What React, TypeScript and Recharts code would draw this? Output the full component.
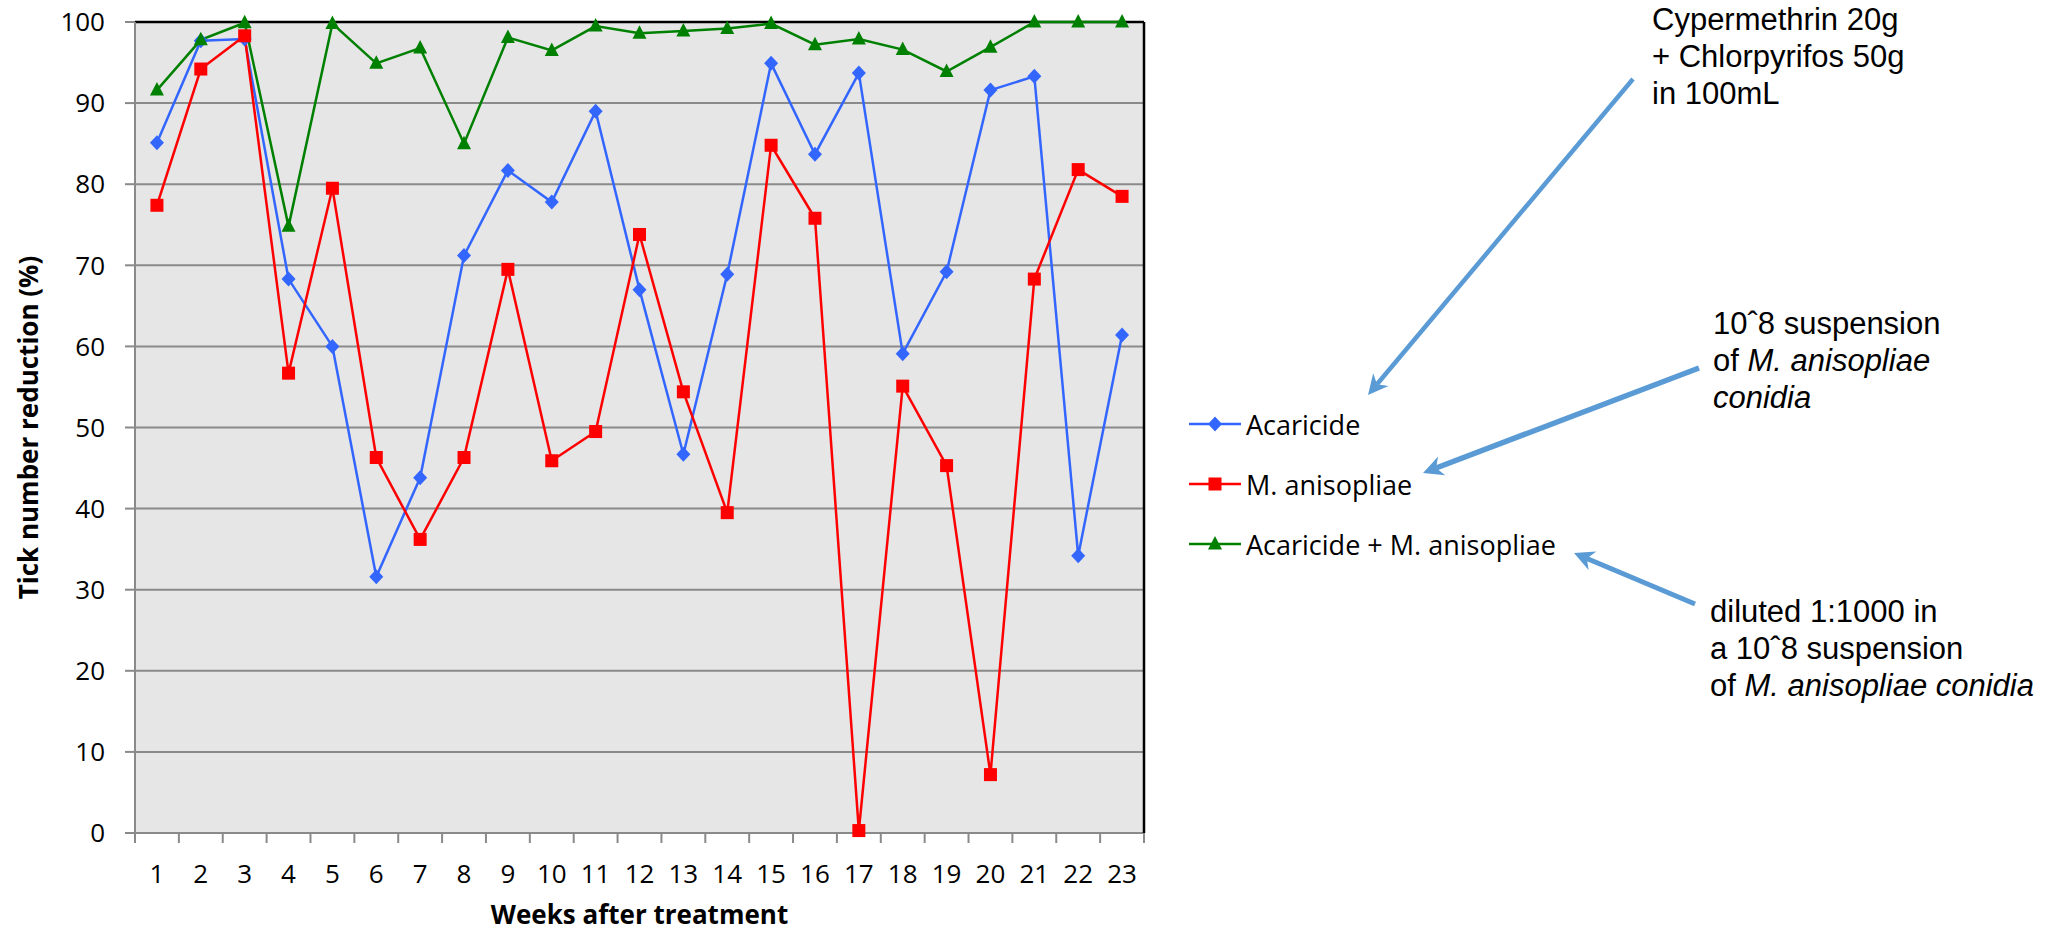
import { LineChart, Line, XAxis, YAxis, CartesianGrid, ReferenceLine, Legend } from "recharts";

const weeks = [1, 2, 3, 4, 5, 6, 7, 8, 9, 10, 11, 12, 13, 14, 15, 16, 17, 18, 19, 20, 21, 22, 23];
const acaricide = [85.1, 97.7, 97.9, 68.3, 60.0, 31.6, 43.8, 71.2, 81.7, 77.8, 89.0, 67.0, 46.7, 68.9, 94.9, 83.7, 93.7, 59.1, 69.2, 91.6, 93.3, 34.2, 61.4];
const anisopliae = [77.4, 94.2, 98.3, 56.7, 79.5, 46.3, 36.2, 46.3, 69.5, 45.9, 49.5, 73.8, 54.4, 39.5, 84.8, 75.8, 0.3, 55.1, 45.3, 7.2, 68.3, 81.8, 78.5];
const combined = [91.6, 97.8, 99.9, 74.8, 99.8, 94.9, 96.8, 85.0, 98.1, 96.5, 99.5, 98.6, 98.9, 99.2, 99.8, 97.2, 97.9, 96.6, 93.9, 96.9, 100, 100, 100];
const yTicks = [0, 10, 20, 30, 40, 50, 60, 70, 80, 90, 100];

const data = weeks.map((w, i) => ({
  week: String(w),
  acaricide: acaricide[i],
  anisopliae: anisopliae[i],
  combined: combined[i],
}));

const series = [
  { key: "acaricide", name: "Acaricide", color: "#3366ff", shape: "diamond" },
  { key: "anisopliae", name: "M. anisopliae", color: "#ff0000", shape: "square" },
  { key: "combined", name: "Acaricide + M. anisopliae", color: "#008000", shape: "triangle" },
];

// layout (page pixels)
const W = 2050;
const H = 934;
const PLOT_L = 135;
const PLOT_R = 1144;
const PLOT_T = 22;
const PLOT_B = 833;
const BAND = (PLOT_R - PLOT_L) / weeks.length;

const AXIS = "#8a8a8a";
const FONT = "'Open Sans', 'Noto Sans', sans-serif";
const NOTE_FONT = "'Liberation Sans', Arial, sans-serif";
const ARROW = "#5b9bd5";

const Marker = ({ cx, cy, shape, color }: any) => {
  if (cx == null || cy == null) return null;
  if (shape === "diamond")
    return <polygon points={`${cx},${cy - 7.5} ${cx + 7},${cy} ${cx},${cy + 7.5} ${cx - 7},${cy}`} fill={color} />;
  if (shape === "square") return <rect x={cx - 6.5} y={cy - 6.5} width={13} height={13} fill={color} />;
  return <polygon points={`${cx},${cy - 8} ${cx + 7},${cy + 5.5} ${cx - 7},${cy + 5.5}`} fill={color} />;
};

const WeekTick = ({ x, y, payload, index }: any) => {
  const half = BAND / 2;
  return (
    <g>
      <line x1={x - half} x2={x - half} y1={y} y2={y + 10} stroke={AXIS} strokeWidth={2} />
      {index === weeks.length - 1 && (
        <line x1={x + half} x2={x + half} y1={y} y2={y + 10} stroke={AXIS} strokeWidth={2} />
      )}
      <text x={x} y={y + 50} textAnchor="middle" fontSize={26} fontFamily={FONT} fill="#000">
        {payload.value}
      </text>
    </g>
  );
};

const XTitle = () => (
  <text x={(PLOT_L + PLOT_R) / 2} y={924} textAnchor="middle" fontSize={26} fontWeight={700} fontFamily={FONT} fill="#000">
    Weeks after treatment
  </text>
);

const YTitle = () => {
  const cx = 38;
  const cy = (PLOT_T + PLOT_B) / 2;
  return (
    <text x={cx} y={cy} transform={`rotate(-90 ${cx} ${cy})`} textAnchor="middle" fontSize={26} fontWeight={700} fontFamily={FONT} fill="#000">
      Tick number reduction (%)
    </text>
  );
};

const renderLegend = () => (
  <div style={{ fontFamily: FONT, fontSize: 27, color: "#000" }}>
    {series.map((s) => (
      <div key={s.key} style={{ display: "flex", alignItems: "center", height: 60 }}>
        <svg width={57} height={20}>
          <line x1={2} x2={54} y1={10} y2={10} stroke={s.color} strokeWidth={2.5} />
          <Marker cx={28} cy={10} shape={s.shape} color={s.color} />
        </svg>
        <span style={{ marginLeft: 2, whiteSpace: "nowrap" }}>{s.name}</span>
      </div>
    ))}
  </div>
);

const arrows = [
  { from: [1633, 79], to: [1368, 395], width: 4.5 },
  { from: [1699, 368], to: [1423, 473], width: 5.5 },
  { from: [1695, 604], to: [1574, 553], width: 5 },
];

const Arrow = ({ from, to, width }: any) => {
  const [x1, y1] = from;
  const [x2, y2] = to;
  const len = Math.hypot(x2 - x1, y2 - y1);
  const ux = (x2 - x1) / len;
  const uy = (y2 - y1) / len;
  const hl = 20;
  const hw = 10;
  const bx = x2 - ux * hl;
  const by = y2 - uy * hl;
  const nx = x2 - ux * hl * 0.7;
  const ny = y2 - uy * hl * 0.7;
  return (
    <g>
      <line x1={x1} y1={y1} x2={nx} y2={ny} stroke={ARROW} strokeWidth={width} />
      <polygon
        points={`${x2},${y2} ${bx - uy * hw},${by + ux * hw} ${nx},${ny} ${bx + uy * hw},${by - ux * hw}`}
        fill={ARROW}
      />
    </g>
  );
};

const Note = ({ x, y, lines }: any) => (
  <text x={x} y={y} fontSize={31} fontFamily={NOTE_FONT} fill="#000">
    {lines.map((parts: any[], i: number) => (
      <tspan key={i} x={x} dy={i === 0 ? 0 : 37}>
        {parts.map((p, j) => (
          <tspan key={j} fontStyle={p.italic ? "italic" : "normal"}>
            {p.t}
          </tspan>
        ))}
      </tspan>
    ))}
  </text>
);

export default function App() {
  return (
    <div style={{ position: "relative", width: W, height: H }}>
      <style>{"body{margin:0}"}</style>
      <LineChart
        width={W}
        height={H}
        data={data}
        margin={{ top: PLOT_T, left: 0, right: W - PLOT_R - 1, bottom: 0 }}
      >
        <CartesianGrid vertical={false} stroke={AXIS} strokeWidth={2} fill="#e6e6e6" fillOpacity={1} />
        <XAxis
          dataKey="week"
          type="category"
          interval={0}
          height={H - PLOT_B}
          padding={{ left: BAND / 2, right: BAND / 2 }}
          axisLine={{ stroke: AXIS, strokeWidth: 2 }}
          tickLine={false}
          tickSize={0}
          tickMargin={0}
          tick={<WeekTick />}
          label={{ content: XTitle }}
        />
        <YAxis
          width={PLOT_L}
          domain={[0, 100]}
          ticks={yTicks}
          interval={0}
          axisLine={{ stroke: AXIS, strokeWidth: 2 }}
          tickLine={{ stroke: AXIS, strokeWidth: 2 }}
          tickSize={10}
          tickMargin={20}
          tick={{ fill: "#000", fontSize: 26, fontFamily: FONT }}
          label={{ content: YTitle }}
        />
        <YAxis
          yAxisId="right"
          orientation="right"
          width={1}
          domain={[0, 100]}
          tick={false}
          tickLine={false}
          axisLine={{ stroke: "#000", strokeWidth: 2.5 }}
        />
        <ReferenceLine y={100} stroke="#000" strokeWidth={2.5} />
        {series.map((s) => (
          <Line
            key={s.key}
            dataKey={s.key}
            name={s.name}
            stroke={s.color}
            strokeWidth={2.5}
            isAnimationActive={false}
            dot={(p: any) => <Marker key={`${s.key}-${p.index}`} cx={p.cx} cy={p.cy} shape={s.shape} color={s.color} />}
            activeDot={false}
          />
        ))}
        <Legend
          layout="vertical"
          align="center"
          verticalAlign="middle"
          wrapperStyle={{ left: 1187, top: 394, width: 420 }}
          content={renderLegend}
        />
      </LineChart>
      <svg width={W} height={H} style={{ position: "absolute", left: 0, top: 0, pointerEvents: "none" }}>
        {arrows.map((a, i) => (
          <Arrow key={i} {...a} />
        ))}
        <Note x={1652} y={30} lines={[[{ t: "Cypermethrin 20g" }], [{ t: "+ Chlorpyrifos 50g" }], [{ t: "in 100mL" }]]} />
        <Note
          x={1713}
          y={334}
          lines={[[{ t: "10ˆ8 suspension" }], [{ t: "of " }, { t: "M. anisopliae", italic: true }], [{ t: "conidia", italic: true }]]}
        />
        <Note
          x={1710}
          y={622}
          lines={[[{ t: "diluted 1:1000 in" }], [{ t: "a 10ˆ8 suspension" }], [{ t: "of " }, { t: "M. anisopliae conidia", italic: true }]]}
        />
      </svg>
    </div>
  );
}
